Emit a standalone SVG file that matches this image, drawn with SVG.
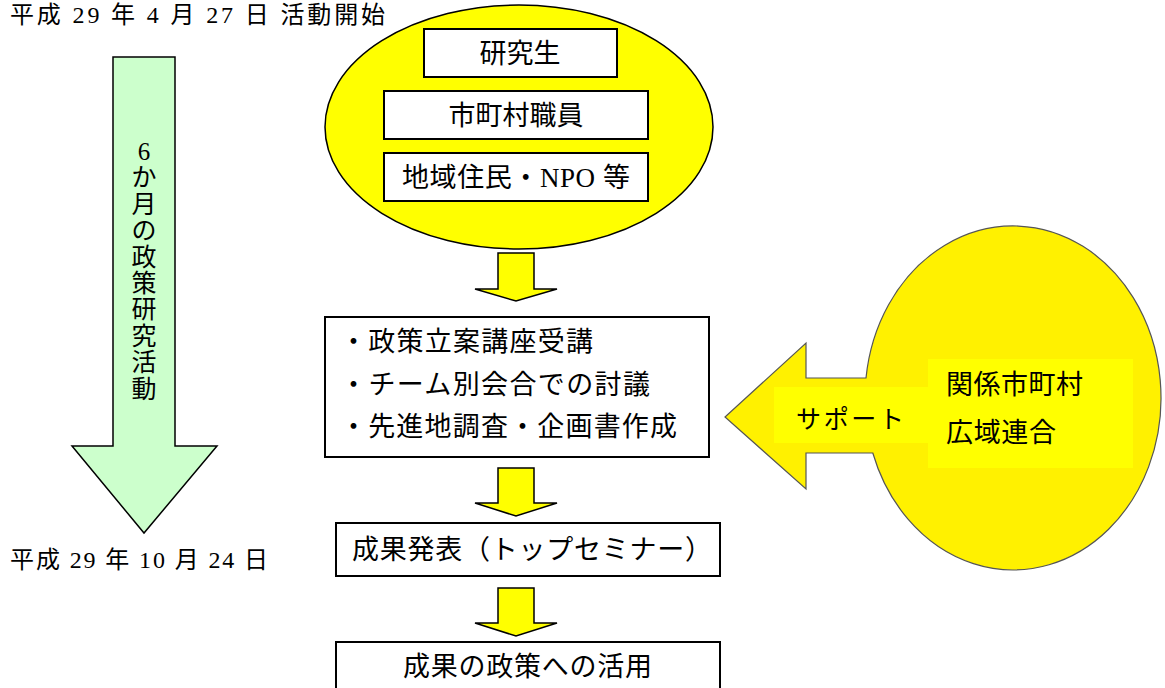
<svg xmlns="http://www.w3.org/2000/svg" width="1165" height="688" viewBox="0 0 1165 688">
<style>
  .t { font-family: "Liberation Serif", "Noto Sans CJK JP", serif; fill: #000; }
  .box { fill: #fff; stroke: #000; stroke-width: 2; }
  .yarrow { fill: #ffff00; stroke: #000; stroke-width: 1.5; stroke-linejoin: miter; }
</style>
<rect width="1165" height="688" fill="#fff"/>

<text class="t" x="10" y="23" font-size="24" textLength="375" lengthAdjust="spacing">平成 29 年 4 月 27 日  活動開始</text>
<text class="t" x="10" y="568" font-size="24" textLength="258" lengthAdjust="spacing">平成 29 年 10 月 24 日</text>

<g id="period-arrow">
  <polygon points="113,57 175,57 175,446 217,446 144,533 72,446 113,446" fill="#ccffcc" stroke="#000" stroke-width="1.5"/>
  <g class="t" font-size="25" text-anchor="middle">
    <text x="144" y="160">6</text>
    <text x="144" y="186">か</text>
    <text x="144" y="213">月</text>
    <text x="144" y="239">の</text>
    <text x="144" y="266">政</text>
    <text x="144" y="292">策</text>
    <text x="144" y="318">研</text>
    <text x="144" y="345">究</text>
    <text x="144" y="371">活</text>
    <text x="144" y="398">動</text>
  </g>
</g>

<g id="members">
  <ellipse cx="519" cy="127" rx="194" ry="122" fill="#ffff00" stroke="#000" stroke-width="1.5"/>
  <rect class="box" x="424" y="29" width="193" height="48"/>
  <text class="t" x="520" y="63" font-size="27" text-anchor="middle">研究生</text>
  <rect class="box" x="384" y="91" width="264" height="48"/>
  <text class="t" x="516" y="125" font-size="27" text-anchor="middle">市町村職員</text>
  <rect class="box" x="384" y="153" width="264" height="48"/>
  <text class="t" x="402" y="187" font-size="27" textLength="228" lengthAdjust="spacing">地域住民・NPO 等</text>
</g>

<g id="connectors">
  <polygon class="yarrow" points="498,253 534,253 534,289 557,289 516,301 475,289 498,289"/>
  <polygon class="yarrow" points="498,468 534,468 534,503 557,503 516,516 475,503 498,503"/>
  <polygon class="yarrow" points="498,588 534,588 534,623 557,623 516,636 475,623 498,623"/>
</g>

<g id="activities">
  <rect class="box" x="325" y="317" width="384" height="140"/>
  <text class="t" x="340" y="351" font-size="27" textLength="253" lengthAdjust="spacing">・政策立案講座受講</text>
  <text class="t" x="340" y="394" font-size="27" textLength="310" lengthAdjust="spacing">・チーム別会合での討議</text>
  <text class="t" x="340" y="436" font-size="27" textLength="337" lengthAdjust="spacing">・先進地調査・企画書作成</text>
</g>

<g id="presentation">
  <rect class="box" x="336" y="523" width="384" height="53"/>
  <text class="t" x="352" y="559" font-size="27" textLength="360" lengthAdjust="spacing">成果発表（トップセミナー）</text>
</g>

<g id="application">
  <rect class="box" x="336" y="642" width="384" height="60"/>
  <text class="t" x="403" y="676" font-size="27" textLength="249" lengthAdjust="spacing">成果の政策への活用</text>
</g>

<g id="support">
  <path d="M866,378 L806,378 L806,343 L725,417 L806,489 L806,453 L872.8,453 A148,172 0 1 0 866,378 Z" fill="#fff100" stroke="#555" stroke-width="1.2"/>
  <rect x="774" y="387" width="154" height="56" fill="#ffff00"/>
  <rect x="928" y="359" width="205" height="109" fill="#ffff00"/>
  <text class="t" x="796" y="428" font-size="25" textLength="108" lengthAdjust="spacing">サポート</text>
  <text class="t" x="946" y="394" font-size="27" textLength="137" lengthAdjust="spacing">関係市町村</text>
  <text class="t" x="946" y="442" font-size="27" textLength="110" lengthAdjust="spacing">広域連合</text>
</g>
</svg>
